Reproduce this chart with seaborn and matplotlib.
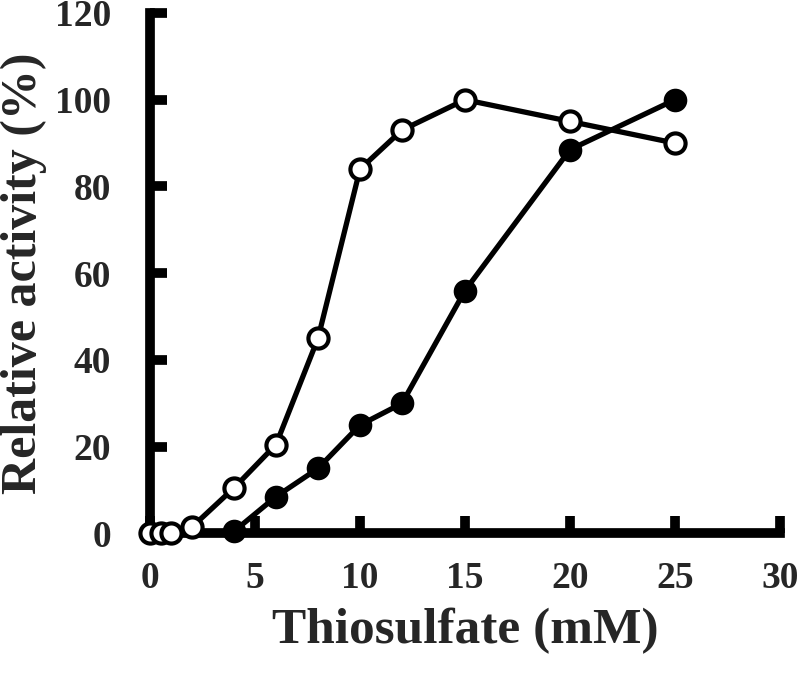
import numpy as np
import pandas as pd
import seaborn as sns
import matplotlib.pyplot as plt

# thiosulfate concentration (mM) and relative activity (%)
open_x = [0, 0.5, 1, 2, 4, 6, 8, 10, 12, 15, 20, 25]
open_y = [0, 0, 0, 1.5, 10.5, 20.5, 45, 84, 93, 100, 95, 90]
filled_x = [4, 6, 8, 10, 12, 15, 20, 25]
filled_y = [0.5, 8.5, 15, 25, 30, 56, 88.5, 100]

x_ticks = [0, 5, 10, 15, 20, 25, 30]
y_ticks = [0, 20, 40, 60, 80, 100, 120]

sns.set_style("ticks", {"xtick.direction": "in", "ytick.direction": "in"})
plt.rcParams["font.family"] = ["Liberation Serif", "DejaVu Serif"]
plt.rcParams["font.weight"] = "bold"
plt.rcParams["axes.axisbelow"] = False

fig = plt.figure(figsize=(8, 6.73), dpi=100)
ax = fig.add_axes([0.1875, 0.2073, 0.7875, 0.7734])

open_df = pd.DataFrame({"x": open_x, "y": open_y})
filled_df = pd.DataFrame({"x": filled_x, "y": filled_y})

sns.lineplot(data=filled_df, x="x", y="y", ax=ax, color="black", linewidth=3.8,
             marker="o", markersize=14.5, markerfacecolor="black",
             markeredgecolor="black", markeredgewidth=2.5, clip_on=False, zorder=5)
sns.lineplot(data=open_df, x="x", y="y", ax=ax, color="black", linewidth=3.8,
             marker="o", markersize=14.5, markerfacecolor="white",
             markeredgecolor="black", markeredgewidth=3, clip_on=False, zorder=6)

ax.set_xlim(0, 30)
ax.set_ylim(0, 120)
ax.set_xticks(x_ticks)
ax.set_yticks(y_ticks)
ax.tick_params(bottom=True, left=True, direction="in", length=12, width=7,
               labelsize=27, color="black")
ax.tick_params(axis="x", pad=20)
ax.tick_params(axis="y", pad=28)
for lbl in ax.get_xticklabels() + ax.get_yticklabels():
    lbl.set_fontweight("bold")

for side in ["top", "right"]:
    ax.spines[side].set_visible(False)
for side in ["left", "bottom"]:
    ax.spines[side].set_linewidth(7)
    ax.spines[side].set_color("black")

ax.set_xlabel("Thiosulfate (mM)", fontsize=37, fontweight="bold", labelpad=8)
ax.set_ylabel("Relative activity (%)", fontsize=36, fontweight="bold", labelpad=6)

fig.savefig("out.png", dpi=100)
